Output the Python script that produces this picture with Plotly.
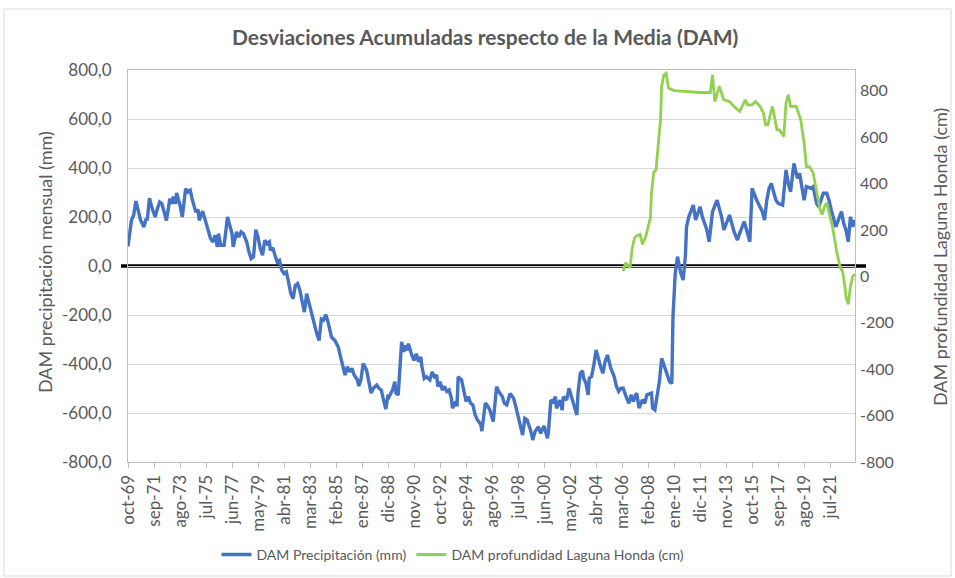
import plotly.graph_objects as go

# ---------------- data ----------------
# x axis: month index counted from oct-1969 (0 = oct-69)
tick_months = [0, 23, 46, 69, 92, 115, 138, 161, 184, 207, 230, 253, 276, 299,
               322, 345, 368, 391, 414, 437, 460, 483, 506, 529, 552, 575, 598, 621]
tick_labels = ["oct-69", "sep-71", "ago-73", "jul-75", "jun-77", "may-79", "abr-81",
               "mar-83", "feb-85", "ene-87", "dic-88", "nov-90", "oct-92", "sep-94",
               "ago-96", "jul-98", "jun-00", "may-02", "abr-04", "mar-06", "feb-08",
               "ene-10", "dic-11", "nov-13", "oct-15", "sep-17", "ago-19", "jul-21"]

months_p = [0, 3, 5, 7, 9, 11, 14, 16, 17, 19, 21, 24, 26, 28, 30, 32, 34, 37, 39, 40,
            42, 43, 46, 48, 51, 53, 55, 57, 59, 60, 62, 63, 66, 69, 70, 73, 75, 77, 79, 80,
            82, 85, 88, 90, 92, 93, 96, 98, 100, 102, 105, 107, 109, 111, 113, 115, 117, 119,
            121, 123, 125, 126, 128, 130, 132, 134, 136, 138, 140, 142, 144, 146, 148, 150,
            152, 155, 156, 158, 160, 162, 164, 167, 169, 171, 173, 175, 177, 180, 183, 186,
            188, 191, 192, 194, 196, 198, 200, 203, 204, 206, 208, 211, 213, 215, 217, 220,
            222, 224, 226, 228, 230, 231, 234, 236, 237, 239, 242, 244, 245, 247, 248, 250,
            251, 253, 255, 257, 259, 260, 262, 264, 267, 269, 271, 273, 274, 276, 278, 280,
            282, 284, 286, 287, 290, 291, 292, 295, 297, 299, 301, 303, 305, 307, 309, 312,
            313, 315, 316, 318, 320, 323, 326, 328, 331, 333, 335, 338, 341, 343, 346, 349,
            351, 353, 356, 358, 360, 363, 365, 368, 371, 372, 374, 376, 378, 379, 382, 384,
            385, 388, 390, 392, 394, 397, 398, 400, 402, 403, 405, 407, 408, 410, 412, 414,
            418, 420, 422, 424, 427, 430, 432, 434, 436, 438, 441, 443, 445, 447, 449, 450,
            452, 455, 457, 459, 463, 464, 466, 468, 470, 472, 474, 477, 479, 481, 482, 484,
            486, 489, 491, 493, 494, 496, 498, 500, 502, 506, 508, 512, 514, 517, 521, 525,
            527, 532, 536, 539, 541, 545, 550, 552, 556, 561, 563, 565, 567, 569, 573, 575,
            579, 581, 582, 584, 586, 589, 592, 594, 596, 598, 600, 604, 606, 609, 611, 615,
            618, 620, 622, 624, 626, 631, 633, 635, 637, 639, 641, 643]
precip = [80, 186, 207, 265, 227, 189, 159, 193, 186, 277, 241, 200, 234, 261, 254, 220, 186,
          275, 254, 284, 254, 298, 248, 200, 316, 302, 309, 268, 234, 220, 230, 186, 224, 173,
          152, 112, 98, 125, 78, 132, 84, 84, 200, 159, 132, 78, 139, 118, 139, 132, 98, 57,
          30, 37, 148, 118, 71, 44, 105, 91, 98, 64, 75, 44, 16, 23, -18, -31, -24, -65, -113,
          -133, -79, -72, -99, -167, -188, -113, -149, -182, -230, -277, -304, -216, -220,
          -199, -230, -290, -304, -331, -371, -425, -445, -411, -432, -418, -445, -465, -490,
          -465, -398, -425, -465, -519, -499, -486, -499, -506, -546, -584, -526, -533, -506,
          -472, -519, -526, -310, -351, -324, -344, -317, -351, -364, -385, -358, -391, -371,
          -411, -459, -452, -465, -432, -452, -445, -492, -472, -506, -492, -512, -506, -539,
          -580, -553, -573, -452, -465, -519, -553, -533, -560, -567, -607, -627, -647, -674,
          -600, -560, -570, -587, -635, -493, -513, -533, -561, -567, -520, -540, -574, -629,
          -690, -622, -629, -669, -710, -676, -656, -683, -653, -703, -669, -547, -554, -533,
          -581, -547, -588, -533, -547, -499, -527, -561, -608, -520, -438, -428, -458, -478,
          -526, -458, -451, -404, -343, -411, -438, -390, -363, -417, -451, -492, -512, -499,
          -499, -539, -560, -526, -553, -526, -519, -580, -546, -560, -526, -519, -580, -587,
          -526, -472, -377, -404, -451, -472, -479, -207, -30, 38, -30, -57, 40, 160, 201, 222,
          249, 188, 242, 201, 147, 99, 222, 269, 201, 147, 208, 140, 106, 133, 181, 99, 317,
          269, 222, 188, 269, 317, 337, 269, 256, 249, 337, 392, 337, 303, 419, 358, 378, 317,
          269, 324, 317, 324, 256, 242, 297, 297, 269, 229, 188, 160, 222, 174, 147, 99, 201,
          160, 188]

months_l = [438, 440, 444, 446, 448, 450, 453, 455, 458, 460, 462, 463, 465, 467, 469, 471,
            472, 474, 476, 478, 483, 494, 506, 515, 517, 519, 523, 527, 532, 536, 541, 546,
            548, 552, 555, 559, 562, 564, 566, 568, 570, 574, 576, 578, 580, 582, 584, 586,
            591, 595, 598, 600, 603, 606, 608, 610, 612, 614, 616, 618, 621, 623, 625, 627,
            630, 632, 634, 635, 637, 639, 641, 643]
laguna = [23, 59, 37, 123, 166, 176, 181, 138, 173, 216, 252, 360, 449, 460, 575, 675, 819,
          869, 876, 812, 801, 797, 793, 793, 869, 754, 819, 761, 754, 733, 711, 761, 740, 740,
          754, 733, 704, 654, 654, 697, 733, 632, 632, 618, 603, 747, 783, 733, 733, 675, 575,
          474, 472, 446, 388, 331, 288, 267, 302, 317, 259, 216, 159, 102, 37, 23, -42, -85,
          -120, -42, 1, 9]

left_ticks = [800, 600, 400, 200, 0, -200, -400, -600, -800]
left_tick_text = ["800,0", "600,0", "400,0", "200,0", "0,0", "-200,0", "-400,0", "-600,0", "-800,0"]
right_ticks = [800, 600, 400, 200, 0, -200, -400, -600, -800]
right_tick_text = ["800", "600", "400", "200", "0", "-200", "-400", "-600", "-800"]

# ---------------- figure ----------------
TXT = "#595959"
FONT = "Lato"

fig = go.Figure()
fig.add_trace(go.Scatter(x=months_p, y=precip, mode="lines", name="DAM Precipitación (mm)",
                         line=dict(color="#4472C4", width=3.4), yaxis="y"))
fig.add_trace(go.Scatter(x=months_l, y=laguna, mode="lines",
                         name="DAM profundidad Laguna Honda (cm)",
                         line=dict(color="#92D050", width=2.8), yaxis="y2"))

fig.update_layout(
    width=955, height=578,
    margin=dict(l=128, r=100, t=70, b=116, autoexpand=False),
    paper_bgcolor="white", plot_bgcolor="white",
    font=dict(family=FONT, color=TXT, size=14),
    title=dict(text="<b>Desviaciones Acumuladas respecto de la Media (DAM)</b>",
               x=0.508, xanchor="center", y=1 - 38 / 578, yanchor="middle",
               font=dict(family=FONT, size=21, color=TXT)),
    xaxis=dict(range=[0, 643], tickmode="array", tickvals=tick_months, ticktext=tick_labels,
               tickangle=-90, ticks="outside", ticklen=5, tickcolor="#bfbfbf",
               showgrid=False, zeroline=False, showline=True, linecolor="#bfbfbf",
               linewidth=1, mirror=True, tickfont=dict(size=17, color=TXT)),
    yaxis=dict(range=[-800, 800], tickmode="array", tickvals=left_ticks,
               ticktext=left_tick_text, showgrid=True, gridcolor="#d9d9d9", gridwidth=1,
               zeroline=False, showline=True, linecolor="#bfbfbf", mirror=True,
               ticks="", ticklabelstandoff=12, tickfont=dict(size=17, color=TXT)),
    yaxis2=dict(range=[-800, 890], overlaying="y", side="right", tickmode="array",
                tickvals=right_ticks, ticktext=right_tick_text, showgrid=False,
                zeroline=False, showline=False, ticks="", ticklabelstandoff=4,
                tickfont=dict(size=16, color=TXT)),
    legend=dict(orientation="h", x=0.447, xanchor="center", y=-0.237, yanchor="middle",
                font=dict(size=14, color=TXT), bgcolor="rgba(0,0,0,0)"),
    showlegend=True,
    annotations=[
        dict(text="DAM precipitación mensual (mm)", textangle=-90, xref="paper", yref="paper",
             x=(45 - 128) / 727, y=(462 - 262) / 392, xanchor="center", yanchor="middle",
             showarrow=False, font=dict(size=18, color=TXT)),
        dict(text="DAM profundidad Laguna Honda (cm)", textangle=-90, xref="paper",
             yref="paper", x=(940 - 128) / 727, y=(462 - 257) / 392, xanchor="center",
             yanchor="middle", showarrow=False, font=dict(size=18, color=TXT)),
    ],
    shapes=[
        dict(type="line", xref="paper", yref="y", x0=(121 - 128) / 727, x1=(866 - 128) / 727,
             y0=0, y1=0, line=dict(color="black", width=3.5), layer="between"),
        dict(type="rect", xref="paper", yref="paper", x0=(4 - 128) / 727,
             x1=(951 - 128) / 727, y0=(462 - 576) / 392, y1=(462 - 9) / 392,
             line=dict(color="#d9d9d9", width=1), fillcolor="rgba(0,0,0,0)", layer="below"),
    ],
)

fig.write_html("out.html",
               config={"displayModeBar": False},
               post_script="document.body.style.margin='0px';document.body.style.overflow='hidden';")
